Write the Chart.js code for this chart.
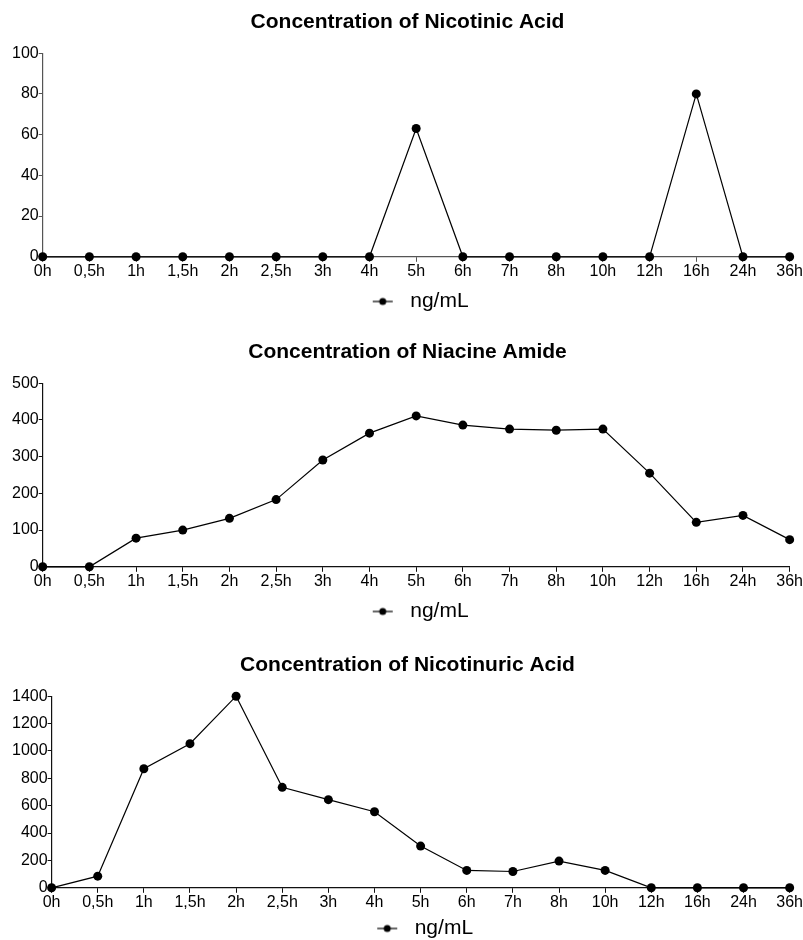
<!DOCTYPE html>
<html>
<head>
<meta charset="utf-8">
<script src="https://cdn.jsdelivr.net/npm/chart.js@4"></script>
<style>
  html, body { margin: 0; padding: 0; background: #fff; overflow: hidden; width: 803px; height: 940px; }
  .wrap { position: absolute; left: 0; width: 803px; }
</style>
</head>
<body>
<div class="wrap" id="w1" style="top:0px;height:322px;"><canvas id="c1"></canvas></div>
<div class="wrap" id="w2" style="top:330px;height:302px;"><canvas id="c2"></canvas></div>
<div class="wrap" id="w3" style="top:643px;height:306px;"><canvas id="c3"></canvas></div>
<script>
const timeLabels = ['0h','0,5h','1h','1,5h','2h','2,5h','3h','4h','5h','6h','7h','8h','10h','12h','16h','24h','36h'];
const nicotinicAcid = [0,0,0,0,0,0,0,0,63,0,0,0,0,0,80,0,0];
const niacineAmide = [0,0,78,100,132,183,291,364,411,386,375,372,375,255,121,140,74];
const nicotinuricAcid = [0,85,870,1053,1400,734,644,556,305,127,119,195,127,0,0,0,0];
const titles = ['Concentration of Nicotinic Acid','Concentration of Niacine Amide','Concentration of Nicotinuric Acid'];
const seriesLabel = 'ng/mL';

const FONT = "'Liberation Sans', Arial, Helvetica, sans-serif";

function makeMarker() {
  const c = document.createElement('canvas');
  c.width = 36; c.height = 10;
  const g = c.getContext('2d');
  g.strokeStyle = '#000'; g.lineWidth = 1.2;
  g.beginPath(); g.moveTo(9, 5); g.lineTo(29, 5); g.stroke();
  g.fillStyle = '#000';
  g.beginPath(); g.arc(19, 5, 3.5, 0, Math.PI * 2); g.fill();
  return c;
}
const marker = makeMarker();

function build(id, title, data, max, step, axisColor, legendPad) {
  new Chart(document.getElementById(id), {
    type: 'line',
    data: {
      labels: timeLabels,
      datasets: [{
        label: seriesLabel,
        data: data,
        borderColor: '#000',
        backgroundColor: '#000',
        borderWidth: 1.2,
        pointStyle: 'circle',
        pointRadius: 4.5,
        pointHoverRadius: 4.5,
        pointBorderWidth: 0,
        pointBackgroundColor: '#000',
        pointBorderColor: '#000',
        tension: 0,
        clip: false
      }]
    },
    options: {
      responsive: true,
      maintainAspectRatio: false,
      animation: false,
      events: [],
      layout: { padding: { left: 12, right: 0, top: 0, bottom: 0 } },
      plugins: {
        title: {
          display: true,
          text: title,
          color: '#000',
          font: { family: FONT, size: 21, weight: 'bold' },
          padding: { top: 10, bottom: 18 }
        },
        legend: {
          display: true,
          position: 'bottom',
          fullSize: false,
          labels: {
            usePointStyle: true,
            pointStyleWidth: 36,
            color: '#000',
            font: { family: FONT, size: 21 },
            padding: legendPad,
            generateLabels: () => [{
              text: seriesLabel,
              pointStyle: marker,
              fillStyle: '#000',
              strokeStyle: '#000',
              lineWidth: 0,
              fontColor: '#000',
              datasetIndex: 0,
              hidden: false
            }]
          }
        },
        tooltip: { enabled: false }
      },
      scales: {
        x: {
          offset: false,
          grid: { display: true, drawOnChartArea: false, drawTicks: true, tickLength: 5, color: axisColor },
          border: { display: true, color: axisColor, width: 1.2 },
          ticks: { color: '#000', font: { family: FONT, size: 16 }, padding: 0, maxRotation: 0, autoSkip: false }
        },
        y: {
          min: 0, max: max,
          grid: { display: true, drawOnChartArea: false, drawTicks: true, tickLength: 4, color: axisColor },
          border: { display: true, color: axisColor, width: 1.2 },
          ticks: { stepSize: step, color: '#000', font: { family: FONT, size: 16 }, padding: 0,
                   callback: (v) => String(v) }
        }
      }
    }
  });
}

build('c1', titles[0], nicotinicAcid, 100, 20, '#555', 10);
build('c2', titles[1], niacineAmide, 500, 100, '#111', 10);
build('c3', titles[2], nicotinuricAcid, 1400, 200, '#111', 6);
</script>
</body>
</html>
